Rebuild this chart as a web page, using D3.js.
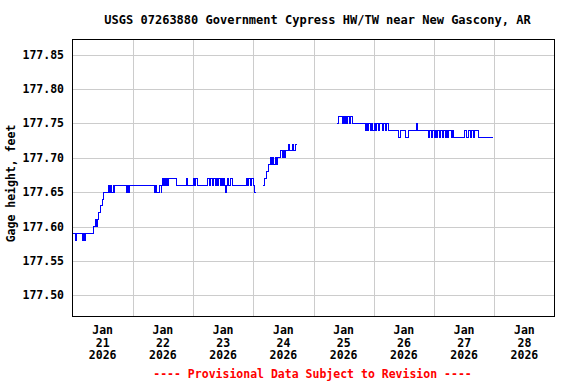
<!DOCTYPE html>
<html>
<head>
<meta charset="utf-8">
<script src="https://cdn.jsdelivr.net/npm/d3@7"></script>
<style>
  html, body { margin: 0; padding: 0; background: #fff; }
  text { font-family: "DejaVu Sans Mono", monospace; font-weight: bold; }
</style>
</head>
<body>
<div id="chart"></div>
<script>
// Gage readings, hours after 2026-01-21 00:00 UTC, step changes only (null = gap)
var hours = [
  0, 1.2, 1.7, 4.0, 4.3, 4.8, 5.2, 8.5, 9.2, 9.6, 10.0, 10.5, 11.2, 11.8, 12.4,
  14.3, 14.7, 15.3, 15.7, 16.2, 16.5, 16.9, 21.5, 21.9, 22.3, 22.7,
  32.5, 32.9, 33.3, 34.7, 35.3, 35.5, 36.0, 36.3, 36.8, 37.2, 37.6, 38.0, 38.4,
  41.6, 45.6, 45.9, 48.2, 48.6, 49.0, 49.8,
  53.8, 54.4, 54.8, 55.8, 56.2, 57.0, 57.4, 57.8, 58.2, 58.9, 59.3, 59.9, 60.3,
  60.7, 61.1, 61.3, 61.7, 62.3, 62.9, 63.9,
  69.3, 69.7, 70.3, 70.9, 71.3, 72.1, 72.5, 72.9, 73.0,
  75.7, 76.3, 77.1, 77.9, 78.7, 79.1, 79.7, 80.1, 80.7, 81.1, 81.7,
  82.7, 83.5, 83.9, 84.3, 84.9, 86.2, 86.6, 87.8, 88.2, 88.8, 89.6, 90.0,
  105.4, 106.0, 107.4, 107.8, 108.4, 108.8, 109.3, 109.7, 110.3, 110.7, 111.4,
  116.7, 117.1, 117.7, 118.1, 118.9, 119.3, 119.7, 120.1, 120.7, 121.1, 121.7,
  122.1, 123.3, 123.7, 124.7, 125.1, 125.7,
  129.9, 130.7, 132.7, 133.9, 137.2, 137.5,
  141.8, 142.2, 143.0, 143.4, 144.0, 144.4, 145.0, 145.4, 146.2, 146.6,
  147.4, 147.8, 148.4, 149.0, 149.4, 149.8, 150.8, 151.2, 151.6,
  156.1, 157.1, 157.9, 158.5, 158.9, 159.7, 160.3, 161.7, 167.7
];
var gage = [
  177.59, 177.58, 177.59, 177.58, 177.59, 177.58, 177.59, 177.60, 177.61, 177.60, 177.61, 177.62, 177.63, 177.64, 177.65,
  177.66, 177.65, 177.66, 177.65, 177.66, 177.65, 177.66, 177.65, 177.66, 177.65, 177.66,
  177.65, 177.66, 177.65, 177.66, 177.65, 177.66, 177.67, 177.66, 177.67, 177.66, 177.67, 177.66, 177.67,
  177.66, 177.67, 177.66, 177.67, 177.66, 177.67, 177.66,
  177.67, 177.66, 177.67, 177.66, 177.67, 177.66, 177.67, 177.66, 177.67, 177.66, 177.67, 177.66, 177.67,
  177.66, 177.65, 177.66, 177.67, 177.66, 177.67, 177.66,
  177.67, 177.66, 177.67, 177.66, 177.67, 177.66, 177.65, 177.65, null,
  177.66, 177.67, 177.68, 177.69, 177.70, 177.69, 177.70, 177.69, 177.70, 177.69, 177.70,
  177.71, 177.70, 177.71, 177.70, 177.71, 177.72, 177.71, 177.72, 177.71, 177.72, 177.72, null,
  177.75, 177.76, 177.75, 177.76, 177.75, 177.76, 177.75, 177.76, 177.75, 177.76, 177.75,
  177.74, 177.75, 177.74, 177.75, 177.74, 177.75, 177.74, 177.75, 177.74, 177.75, 177.74,
  177.75, 177.74, 177.75, 177.74, 177.75, 177.74,
  177.73, 177.74, 177.73, 177.74, 177.75, 177.74,
  177.73, 177.74, 177.73, 177.74, 177.73, 177.74, 177.73, 177.74, 177.73, 177.74,
  177.73, 177.74, 177.73, 177.74, 177.73, 177.74, 177.73, 177.74, 177.73,
  177.74, 177.73, 177.74, 177.73, 177.74, 177.73, 177.74, 177.73, 177.73
];
var yTicks = [177.50, 177.55, 177.60, 177.65, 177.70, 177.75, 177.80, 177.85];
var startDate = '2026-01-21T00:00:00Z';
var endDate = '2026-01-29T00:00:00Z';
var titleText = 'USGS 07263880 Government Cypress HW/TW near New Gascony, AR';
var yLabel = 'Gage height, feet';
var footText = '---- Provisional Data Subject to Revision ----';

(function () {
  var width = 576, height = 384;
  var pLeft = 72.5, pRight = 554.5, pTop = 39.5, pBottom = 316.5;

  var t0 = new Date(startDate), t1 = new Date(endDate);
  var data = hours.map(function (h, i) {
    return { t: new Date(t0.getTime() + h * 3600e3), v: gage[i] };
  });

  var x = d3.scaleUtc().domain([t0, t1]).range([pLeft, pRight]);
  var y = d3.scaleLinear().domain([177.4695, 177.8718]).range([pBottom, pTop]);

  var svg = d3.select('#chart').append('svg')
      .attr('width', width)
      .attr('height', height);

  svg.append('text')
      .attr('x', 317.5).attr('y', 23.5)
      .attr('text-anchor', 'middle')
      .style('font-size', '12px')
      .text(titleText);

  // grid
  svg.append('g').selectAll('line').data(yTicks).enter().append('line')
      .attr('x1', pLeft).attr('x2', pRight)
      .attr('y1', function (d) { return Math.round(y(d)) + 0.5; })
      .attr('y2', function (d) { return Math.round(y(d)) + 0.5; })
      .attr('stroke', '#cccccc');

  var days = d3.utcDay.range(t0, t1);
  svg.append('g').selectAll('line').data(days.slice(1)).enter().append('line')
      .attr('y1', pTop).attr('y2', pBottom)
      .attr('x1', function (d) { return Math.round(x(d)) + 0.5; })
      .attr('x2', function (d) { return Math.round(x(d)) + 0.5; })
      .attr('stroke', '#cccccc');

  // y tick labels
  svg.append('g').selectAll('text').data(yTicks).enter().append('text')
      .attr('x', 64)
      .attr('y', function (d) { return y(d) + 4; })
      .attr('text-anchor', 'end')
      .style('font-size', '11.5px')
      .text(function (d) { return d3.format('.2f')(d); });

  // x tick labels at noon
  var fmts = [d3.utcFormat('%b'), d3.utcFormat('%-d'), d3.utcFormat('%Y')];
  var xl = svg.append('g').selectAll('text').data(days).enter().append('text')
      .attr('text-anchor', 'middle')
      .style('font-size', '11.5px')
      .attr('transform', function (d) {
        return 'translate(' + x(d3.utcHour.offset(d, 12)) + ',334)';
      });
  fmts.forEach(function (f, i) {
    xl.append('tspan')
        .attr('x', 0)
        .attr('y', i * 12.7)
        .text(function (d) { return f(d); });
  });

  svg.append('text')
      .attr('transform', 'translate(15,183.5) rotate(-90)')
      .attr('text-anchor', 'middle')
      .style('font-size', '11.5px')
      .text(yLabel);

  var line = d3.line()
      .defined(function (d) { return d.v != null; })
      .x(function (d) { return x(d.t); })
      .y(function (d) { return y(d.v); })
      .curve(d3.curveStepAfter);

  svg.append('path')
      .datum(data)
      .attr('d', line)
      .attr('fill', 'none')
      .attr('stroke', '#0000ff')
      .attr('stroke-width', 1)
      .attr('shape-rendering', 'crispEdges');

  svg.append('rect')
      .attr('x', pLeft).attr('y', pTop)
      .attr('width', pRight - pLeft).attr('height', pBottom - pTop)
      .attr('fill', 'none')
      .attr('stroke', '#000');

  svg.append('text')
      .attr('x', 312.5).attr('y', 378)
      .attr('text-anchor', 'middle')
      .attr('fill', '#ff0000')
      .style('font-size', '11.5px')
      .text(footText);
})();
</script>
</body>
</html>
